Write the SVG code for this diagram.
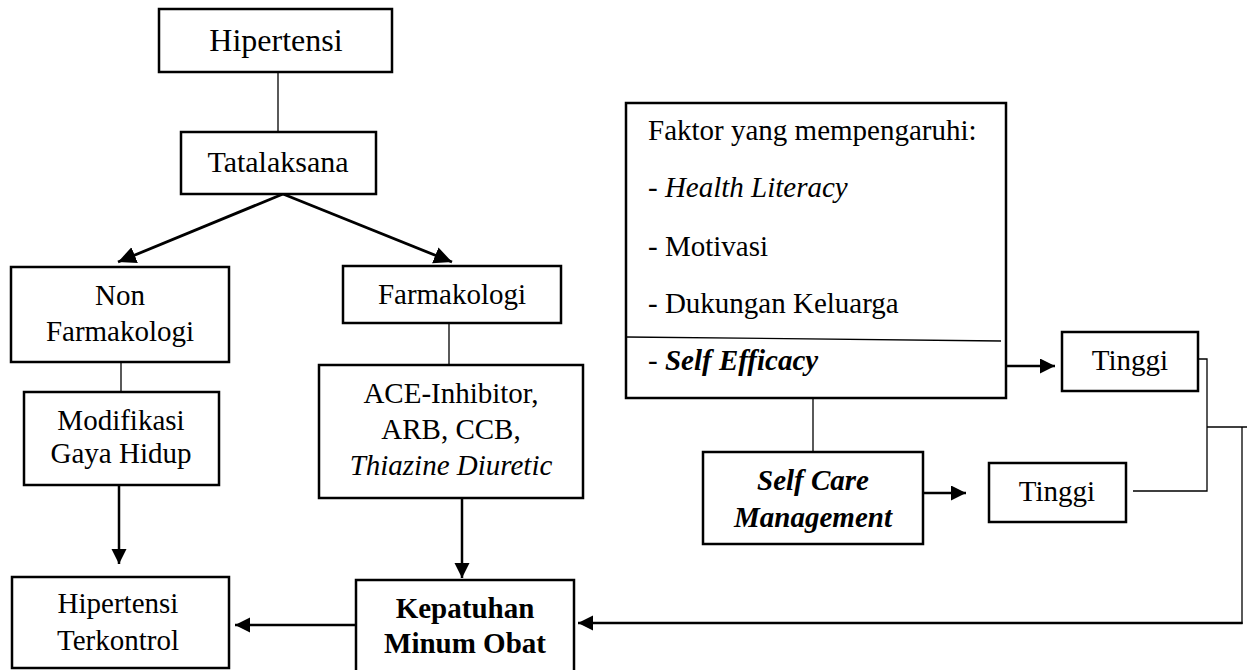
<svg xmlns="http://www.w3.org/2000/svg" width="1251" height="670" viewBox="0 0 1251 670">
<style>
  .box { fill: #fff; stroke: #000; stroke-width: 2.5; }
  .t { font-family: "Liberation Serif", "Times New Roman", serif; font-size: 29px; fill: #000; }
  .c { text-anchor: middle; }
  .i { font-style: italic; }
  .b { font-weight: bold; }
  .thin { stroke: #000; stroke-width: 1.3; fill: none; }
  .arr { stroke: #000; stroke-width: 2.5; fill: none; marker-end: url(#ah); }
  .arrd { stroke: #000; stroke-width: 2.8; fill: none; marker-end: url(#ahd); }
</style>
<defs>
  <marker id="ah" markerUnits="userSpaceOnUse" markerWidth="16" markerHeight="16" refX="15" refY="7.5" orient="auto">
    <path d="M0,0 L15,7.5 L0,15 z" fill="#000"/>
  </marker>
  <marker id="ahd" markerUnits="userSpaceOnUse" markerWidth="20" markerHeight="20" refX="18" refY="8.5" orient="auto">
    <path d="M0,0 L18,8.5 L0,17 z" fill="#000"/>
  </marker>
</defs>

<g id="connectors">
  <line class="thin" x1="278" y1="72" x2="278" y2="132"/>
  <line class="arrd" x1="283" y1="194" x2="118" y2="262"/>
  <line class="arrd" x1="283" y1="194" x2="452" y2="262"/>
  <line class="thin" x1="121" y1="362" x2="121" y2="392"/>
  <line class="thin" x1="449" y1="323" x2="449" y2="365"/>
  <line class="arr" x1="119" y1="483" x2="119" y2="564"/>
  <line class="arr" x1="462" y1="498" x2="462" y2="578"/>
  <line class="arr" x1="356" y1="625" x2="235" y2="625"/>
  <line class="thin" x1="813" y1="398" x2="813" y2="452"/>
  <line class="arr" x1="1006" y1="366" x2="1055" y2="366"/>
  <line class="arr" x1="918" y1="493" x2="966" y2="493"/>
  <polyline class="thin" points="1198,359 1207,359 1207,491 1133,491"/>
  <polyline class="thin" points="1207,427 1247,427"/>
  <line class="thin" x1="1242" y1="427" x2="1242" y2="624"/>
  <line class="arr" x1="1242.6" y1="623" x2="578" y2="623"/>
</g>

<g id="hipertensi">
  <rect class="box" x="159" y="9" width="233" height="63"/>
  <text class="t c" x="276" y="51" style="font-size:32px">Hipertensi</text>
</g>
<g id="tatalaksana">
  <rect class="box" x="181" y="132" width="195" height="62"/>
  <text class="t c" x="278" y="172" style="font-size:30px">Tatalaksana</text>
</g>
<g id="non-farmakologi">
  <rect class="box" x="11" y="267" width="218" height="95"/>
  <text class="t c" x="120" y="305">Non</text>
  <text class="t c" x="120" y="341">Farmakologi</text>
</g>
<g id="farmakologi">
  <rect class="box" x="343" y="266" width="218" height="57"/>
  <text class="t c" x="452" y="304">Farmakologi</text>
</g>
<g id="modifikasi">
  <rect class="box" x="24" y="392" width="195" height="93"/>
  <text class="t c" x="121" y="430">Modifikasi</text>
  <text class="t c" x="121" y="463">Gaya Hidup</text>
</g>
<g id="obat">
  <rect class="box" x="319" y="365" width="264" height="133"/>
  <text class="t c" x="451" y="403">ACE-Inhibitor,</text>
  <text class="t c" x="451" y="439">ARB, CCB,</text>
  <text class="t c i" x="451" y="475">Thiazine Diuretic</text>
</g>
<g id="hipertensi-terkontrol">
  <rect class="box" x="12" y="577" width="217" height="91"/>
  <text class="t c" x="118" y="613">Hipertensi</text>
  <text class="t c" x="118" y="650">Terkontrol</text>
</g>
<g id="kepatuhan">
  <rect class="box" x="356" y="580" width="218" height="93"/>
  <text class="t c b" x="465" y="618">Kepatuhan</text>
  <text class="t c b" x="465" y="653">Minum Obat</text>
</g>
<g id="faktor">
  <rect class="box" x="626" y="103" width="380" height="295"/>
  <text class="t" x="648" y="140">Faktor yang mempengaruhi:</text>
  <text class="t" x="648" y="197">- <tspan class="i">Health Literacy</tspan></text>
  <text class="t" x="648" y="256">- Motivasi</text>
  <text class="t" x="648" y="313">- Dukungan Keluarga</text>
  <line class="thin" x1="626" y1="337" x2="1001" y2="341"/>
  <text class="t" x="648" y="370">- <tspan class="i b">Self Efficacy</tspan></text>
</g>
<g id="tinggi-1">
  <rect class="box" x="1062" y="332" width="136" height="59"/>
  <text class="t c" x="1130" y="370">Tinggi</text>
</g>
<g id="self-care">
  <rect class="box" x="703" y="452" width="220" height="92"/>
  <text class="t c i b" x="813" y="490">Self Care</text>
  <text class="t c i b" x="813" y="527">Management</text>
</g>
<g id="tinggi-2">
  <rect class="box" x="989" y="463" width="137" height="59"/>
  <text class="t c" x="1057" y="501">Tinggi</text>
</g>
</svg>
